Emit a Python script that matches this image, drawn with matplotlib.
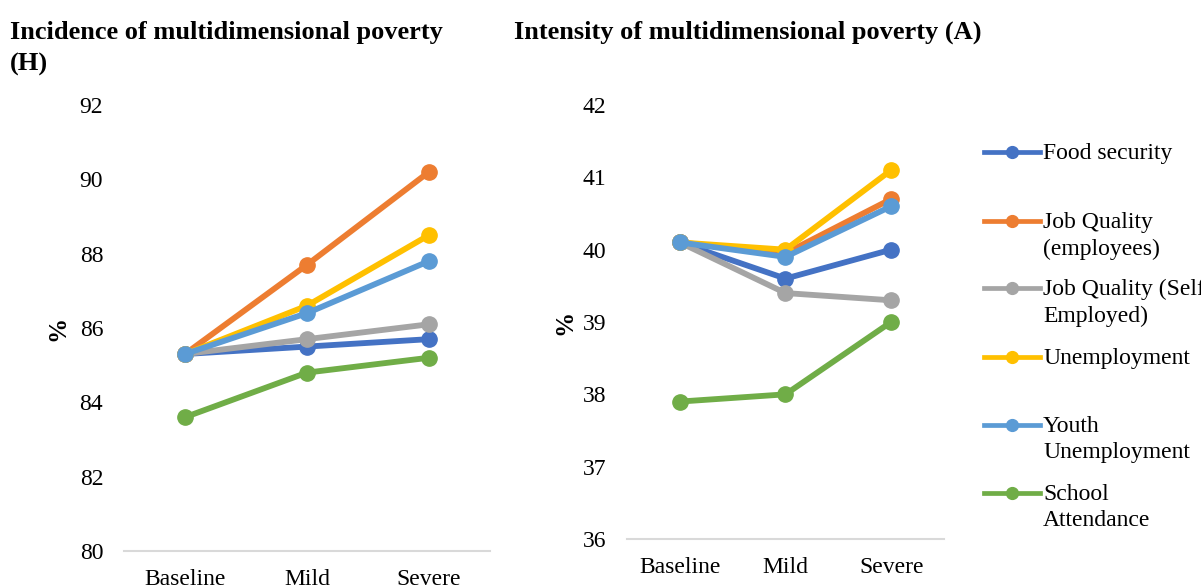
import matplotlib
matplotlib.use("Agg")
import matplotlib.pyplot as plt
from matplotlib.lines import Line2D

plt.rcParams['font.family'] = ['Liberation Serif', 'DejaVu Serif']

# Scenario categories and the six deprivation indicators
scenarios = ["Baseline", "Mild", "Severe"]
indicators = ["Food security", "Job Quality\n(employees)", "Job Quality (Self-\nEmployed)",
              "Unemployment", "Youth\nUnemployment", "School\nAttendance"]
colors = ["#4472C4", "#ED7D31", "#A5A5A5", "#FFC000", "#5B9BD5", "#70AD47"]

# Incidence (H), %
food_h = [85.3, 85.5, 85.7]
jobq_emp_h = [85.3, 87.7, 90.2]
jobq_self_h = [85.3, 85.7, 86.1]
unemp_h = [85.3, 86.6, 88.5]
youth_h = [85.3, 86.4, 87.8]
school_h = [83.6, 84.8, 85.2]

# Intensity (A), %
food_a = [40.1, 39.6, 40.0]
jobq_emp_a = [40.1, 39.95, 40.7]
jobq_self_a = [40.1, 39.4, 39.3]
unemp_a = [40.1, 40.0, 41.1]
youth_a = [40.1, 39.9, 40.6]
school_a = [37.9, 38.0, 39.0]

incidence = [food_h, jobq_emp_h, jobq_self_h, unemp_h, youth_h, school_h]
intensity = [food_a, jobq_emp_a, jobq_self_a, unemp_a, youth_a, school_a]

W, H = 1201, 588
fig = plt.figure(figsize=(W / 100, H / 100), dpi=100)

ax1 = fig.add_axes([124 / W, 1 - 551 / H, 366 / W, 446 / H])
ax2 = fig.add_axes([627 / W, 1 - 539 / H, 317 / W, 434 / H])

FS = 17


def style_axis(ax, series, ylim, step, label_x):
    x = list(range(len(scenarios)))
    for vals, c in zip(series, colors):
        ax.plot(x, vals, color=c, lw=4.2, marker='o', ms=11, solid_capstyle='round')
    ax.set_xlim(-0.5, len(scenarios) - 0.5)
    ax.set_ylim(*ylim)
    ax.set_yticks(range(ylim[0], ylim[1] + 1, step))
    ax.set_xticks(x)
    ax.set_xticklabels(scenarios)
    for s in ["top", "right", "left"]:
        ax.spines[s].set_visible(False)
    ax.spines["bottom"].set_color("#D9D9D9")
    ax.spines["bottom"].set_linewidth(1.5)
    ax.tick_params(axis='both', length=0, labelsize=FS, colors='black')
    ax.tick_params(axis='y', pad=15)
    ax.tick_params(axis='x', pad=13)
    ax.set_ylabel("%", fontsize=FS + 1, fontweight='bold')
    ax.yaxis.set_label_coords(label_x, 0.5)


style_axis(ax1, incidence, (80, 92), 2, -0.15)
style_axis(ax2, intensity, (36, 42), 1, -0.161)

fig.text(10 / W, 1 - 21 / H, "Incidence of multidimensional poverty\n(H)", fontsize=19,
         fontweight='bold', va='top', ha='left', linespacing=1.45)
fig.text(514 / W, 1 - 21 / H, "Intensity of multidimensional poverty (A)", fontsize=19,
         fontweight='bold', va='top', ha='left')

# legend drawn by hand so the key sits beside the first text line
legend_y = [152, 221, 288, 357, 425, 493]
for lab, c, yy in zip(indicators, colors, legend_y):
    yf = 1 - yy / H
    fig.add_artist(Line2D([984 / W, 1040 / W], [yf, yf], color=c, lw=3.4,
                          transform=fig.transFigure))
    fig.add_artist(Line2D([1012 / W], [yf], color=c, marker='o', ms=8.5,
                          transform=fig.transFigure))
    fig.text(1043 / W, yf + 9 / H, lab, fontsize=FS, va='top', ha='left', linespacing=1.34)

fig.savefig("out.png", dpi=100)
